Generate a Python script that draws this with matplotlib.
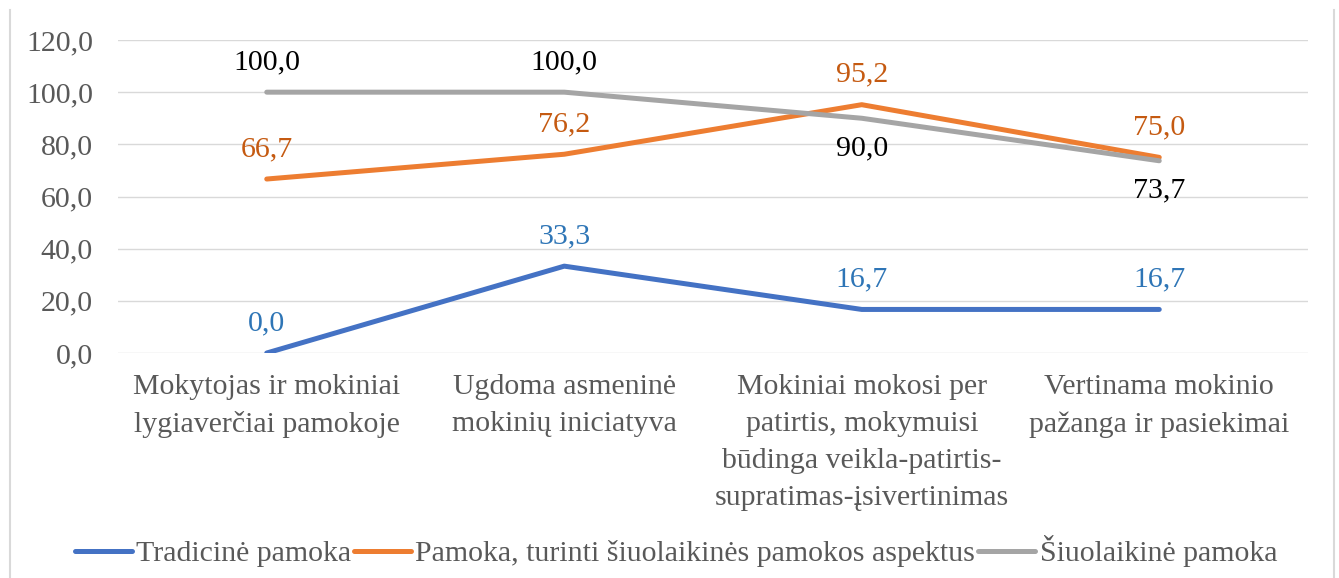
import matplotlib.pyplot as plt
from matplotlib.lines import Line2D

# duomenys
categories = [
    "Mokytojas ir mokiniai\nlygiaverčiai pamokoje",
    "Ugdoma asmeninė\nmokinių iniciatyva",
    "Mokiniai mokosi per\npatirtis, mokymuisi\nbūdinga veikla-patirtis-\nsupratimas-įsivertinimas",
    "Vertinama mokinio\npažanga ir pasiekimai",
]
tradicine = [0.0, 33.3, 16.7, 16.7]
aspektai = [66.7, 76.2, 95.2, 75.0]
siuolaikine = [100.0, 100.0, 90.0, 73.7]
series_names = ["Tradicinė pamoka", "Pamoka, turinti šiuolaikinės pamokos aspektus", "Šiuolaikinė pamoka"]
yticks = [0, 20, 40, 60, 80, 100, 120]

plt.rcParams["font.family"] = ["Liberation Serif", "DejaVu Serif"]
FS = 21.5
TICK_COLOR = "#595959"

fig = plt.figure(figsize=(13.39, 5.78), dpi=100)
ax = fig.add_axes([118 / 1339, 1 - 353 / 578, 1190 / 1339, 313 / 578])

x = list(range(len(categories)))
series = [
    (tradicine, "#4472C4", "#2E75B6", [1, 1, 1, 1]),
    (aspektai, "#ED7D31", "#C55A11", [1, 1, 1, 1]),
    (siuolaikine, "#A5A5A5", "black", [1, 1, -1, -1]),
]
for (vals, col, lab_col, side), name in zip(series, series_names):
    ax.plot(x, vals, color=col, lw=3.6, solid_capstyle="round",
            solid_joinstyle="round", label=name, zorder=3)
    for xi, v, s in zip(x, vals, side):
        ax.annotate(f"{v:.1f}".replace(".", ","), (xi, v),
                    xytext=(0, 30 * s), textcoords="offset pixels",
                    ha="center", va="center", fontsize=FS, color=lab_col)

ax.set_xlim(-0.5, 3.5)
ax.set_ylim(0, 120)
ax.set_yticks(yticks)
ax.set_yticklabels([f"{t:.1f}".replace(".", ",") for t in yticks])
ax.set_xticks(x)
ax.set_xticklabels(categories, linespacing=1.55)
ax.tick_params(axis="y", length=0, pad=18, labelsize=FS, labelcolor=TICK_COLOR)
ax.tick_params(axis="x", length=0, pad=15, labelsize=FS, labelcolor=TICK_COLOR)
ax.grid(axis="y", color="#D9D9D9", lw=1)
ax.set_axisbelow(True)
for sp in ax.spines.values():
    sp.set_visible(False)

fig.legend(loc="center", bbox_to_anchor=(676 / 1339, 1 - 551 / 578), ncol=3,
           frameon=False, fontsize=FS, handlelength=1.9, handletextpad=0.15,
           columnspacing=0.1, labelcolor=TICK_COLOR)

# rėmelio kraštai
for xe in (10 / 1339, 1334 / 1339):
    fig.add_artist(Line2D([xe, xe], [0, 1 - 10 / 578], color="#D9D9D9", lw=1.5))

fig.savefig("out.png", dpi=100)
